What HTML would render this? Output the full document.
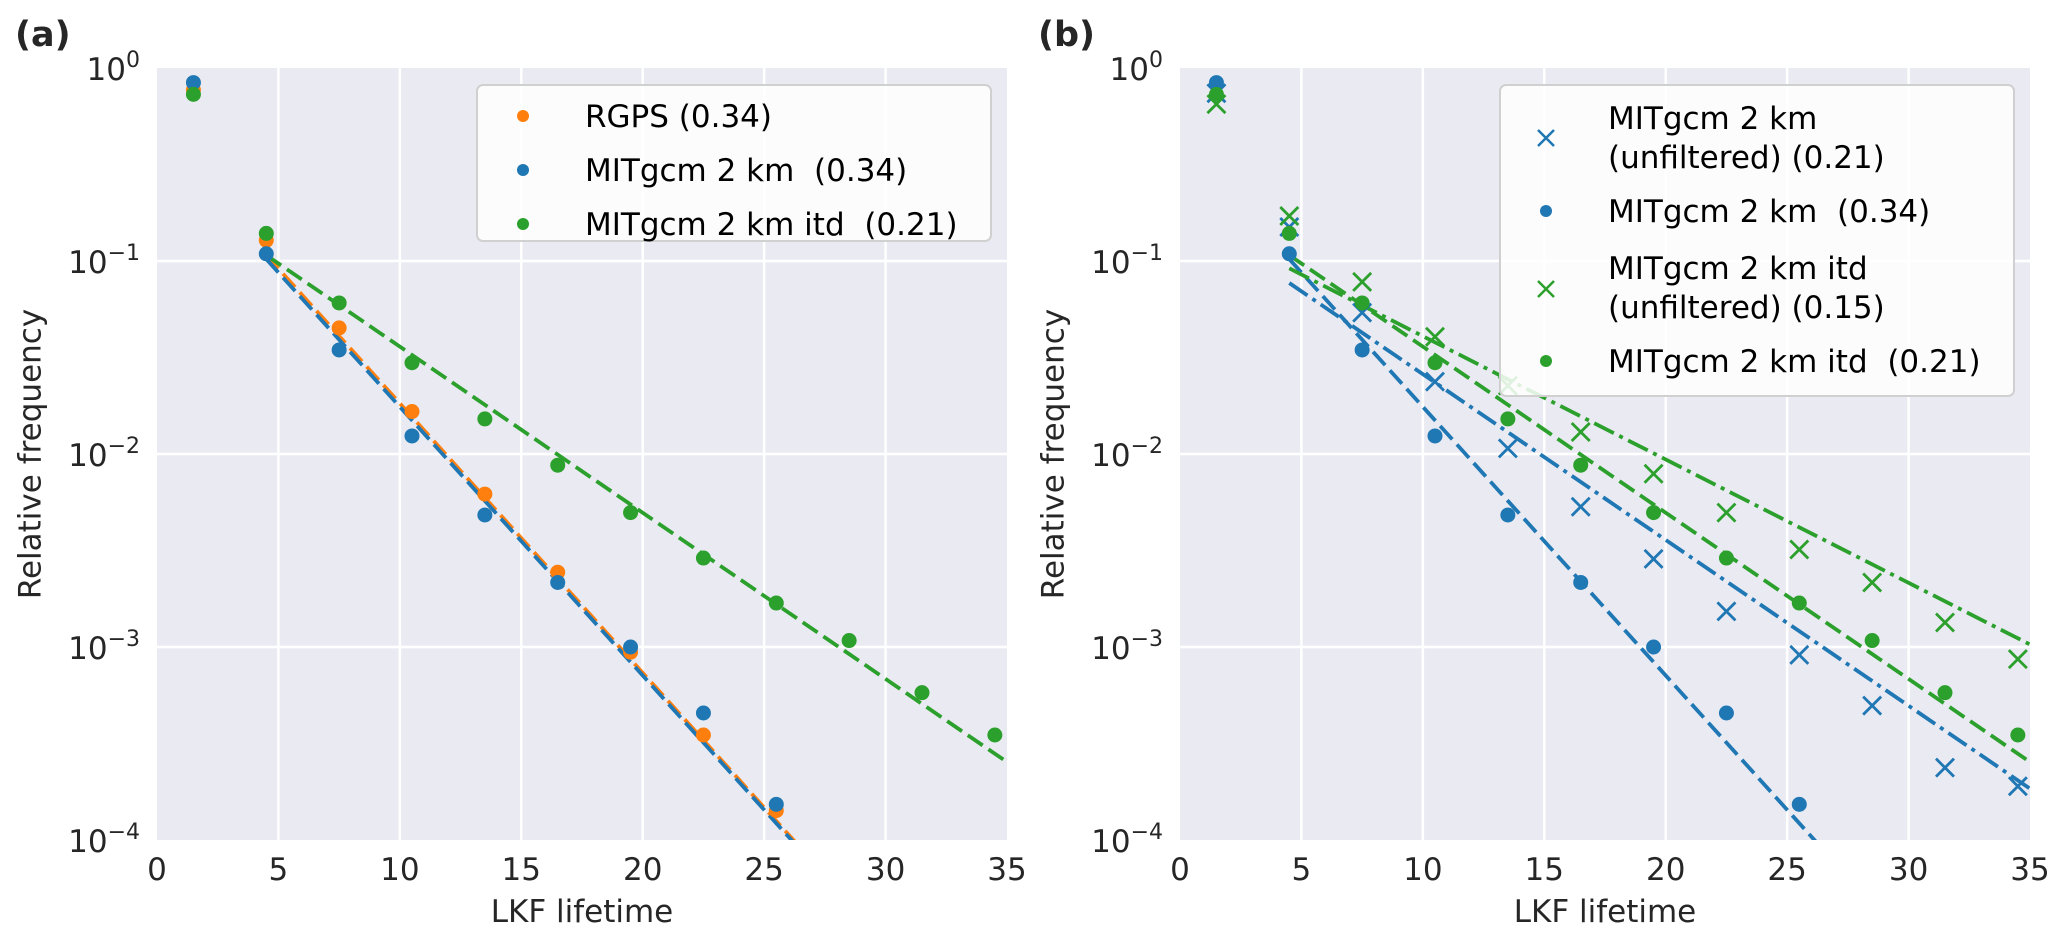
<!DOCTYPE html>
<html><head><meta charset="utf-8">
<style>
html,body{margin:0;padding:0;background:#fff;width:2067px;height:944px;overflow:hidden;}
svg{display:block;font-family:"DejaVu Sans","Liberation Sans",sans-serif;}
svg text{white-space:pre;}
</style></head>
<body>
<svg id="fig" width="2067" height="944" viewBox="0 0 2067 944" xmlns="http://www.w3.org/2000/svg" xml:space="preserve">
<defs>
<clipPath id="clipA"><rect x="157" y="68" width="850" height="772"/></clipPath>
<clipPath id="clipB"><rect x="1180" y="68" width="850" height="772"/></clipPath>
</defs>
<g id="panelA"></g>
<g id="panelB"></g>
</svg>
<script>
// ---- data ----
const lifetimes = [1.5,4.5,7.5,10.5,13.5,16.5,19.5,22.5,25.5,28.5,31.5,34.5];
const rgpsVals = [0.77,0.128,0.045,0.0166,0.0062,0.00244,0.00094,0.00035,0.000142];
const mit2kmVals = [0.84,0.109,0.0346,0.0124,0.00483,0.00216,0.001,0.000455,0.000153];
const mitItdVals = [0.73,0.139,0.0606,0.0297,0.0152,0.00875,0.00497,0.00289,0.00169,0.00108,0.00058,0.00035];
const mit2kmUnfVals = [0.74,0.150,0.054,0.0237,0.0107,0.00533,0.00286,0.00153,0.00091,0.000497,0.000237,0.00019];
const mitItdUnfVals = [0.65,0.171,0.078,0.0405,0.0226,0.013,0.0079,0.00497,0.0032,0.00216,0.00134,0.000865];
// exponential fits: log10(value at fitStart), slope in log10 per unit lifetime
const fitStart = 4.5;
const fitRgps = [-0.97,-0.1396];
const fitMit2km = [-0.99,-0.1392];
const fitMitItd = [-0.97,-0.0861];
const fitMit2kmUnf = [-1.114,-0.0859];
const fitMitItdUnf = [-1.038,-0.0639];
const xTicks = [0,5,10,15,20,25,30,35];
const yTickExps = [0,-1,-2,-3,-4];

const BLUE="#1f77b4", ORANGE="#ff7f0e", GREEN="#2ca02c";
const NS="http://www.w3.org/2000/svg";
function mk(tag, attrs, parent){const e=document.createElementNS(NS,tag);for(const k in attrs)e.setAttribute(k,attrs[k]);parent.appendChild(e);return e;}

function makeAxes(left){
  const top=68, w=850, h=772;
  return {left, top, w, h,
    x: v => left + v/35*w,
    y: v => top + (-Math.log10(v))/4*h};
}

function drawFrame(g, ax, label){
  const bg=mk('rect',{x:ax.left,y:ax.top,width:ax.w,height:ax.h,fill:'#EAEAF2'},g);
  
  
  xTicks.forEach(t=>{
    const gx=ax.x(t);
    if(t>0&&t<35){const l=mk('line',{x1:gx,x2:gx,y1:ax.top,y2:ax.top+ax.h,stroke:'#fff','stroke-width':2.5},g);
      
      }
    const tx=mk('text',{x:gx,y:880,'font-size':31,fill:'#262626','text-anchor':'middle'},g);
    tx.textContent=t;
    
    
  });
  yTickExps.forEach(e=>{
    const gy=ax.y(Math.pow(10,e));
    if(e<0&&e>-4){const l=mk('line',{x1:ax.left,x2:ax.left+ax.w,y1:gy,y2:gy,stroke:'#fff','stroke-width':2.5},g);
      
      }
    const tx=mk('text',{x:ax.left-17,y:gy+12,'font-size':31,fill:'#262626','text-anchor':'end'},g);
    
    
    const b=document.createElementNS(NS,'tspan');b.textContent='10';tx.appendChild(b);
    const s=document.createElementNS(NS,'tspan');s.setAttribute('dy','-13');s.setAttribute('font-size','22');
    s.textContent=(e===0?'0':'\u2212'+(-e));tx.appendChild(s);
  });
  const xl=mk('text',{x:ax.left+ax.w/2,y:922,'font-size':31,fill:'#262626','text-anchor':'middle'},g);
  xl.textContent='LKF lifetime';
  
  
  const cx=ax.left-125, cy=ax.top+ax.h/2;
  const yl=mk('text',{x:cx,y:cy,'font-size':31,fill:'#262626','text-anchor':'middle',transform:`rotate(-90 ${cx} ${cy})`,'dominant-baseline':'middle'},g);
  yl.textContent='Relative frequency';
  
  
  const pl=mk('text',{x:ax.left-142,y:46,'font-size':35,'font-weight':'bold',fill:'#262626'},g);
  pl.textContent=label;
  
  
}

function drawFit(g, ax, fit, color, dash, clip, name){
  const x0=fitStart, x1=35;
  const v0=Math.pow(10,fit[0]), v1=Math.pow(10,fit[0]+fit[1]*(x1-x0));
  const l=mk('line',{x1:ax.x(x0),y1:ax.y(v0),x2:ax.x(x1),y2:ax.y(v1),stroke:color,'stroke-width':3.8,'stroke-dasharray':dash,'clip-path':clip},g);
  
  
}
function drawDots(g, ax, vals, color, clip, name){
  vals.forEach((v,i)=>{
    const c=mk('circle',{cx:ax.x(lifetimes[i]),cy:ax.y(v),r:7.5,fill:color,'clip-path':clip},g);
    
    
  });
}
function drawXs(g, ax, vals, color, clip, name){
  vals.forEach((v,i)=>{
    const px=ax.x(lifetimes[i]), py=ax.y(v), s=9;
    const p=mk('path',{d:`M${px-s},${py-s}L${px+s},${py+s}M${px-s},${py+s}L${px+s},${py-s}`,stroke:color,'stroke-width':2.8,fill:'none','clip-path':clip},g);
    
    
  });
}
function legendBox(g,x,y,w,h){
  const r=mk('rect',{x,y,width:w,height:h,rx:6,fill:'#fff','fill-opacity':0.85,stroke:'#d0d0d0','stroke-width':2},g);
  
  
}
function legDot(g,x,y,color){const c=mk('circle',{cx:x,cy:y,r:6,fill:color},g);
  
  }
function legX(g,x,y,color){const s=8;const p=mk('path',{d:`M${x-s},${y-s}L${x+s},${y+s}M${x-s},${y+s}L${x+s},${y-s}`,stroke:color,'stroke-width':2.5},g);
  
  }
function legText(g,x,y,str){const t=mk('text',{x,y:y+11,'font-size':31,fill:'#000'},g);t.textContent=str;
  
  }

// Panel A
const gA=document.getElementById('panelA');
const axA=makeAxes(157);
drawFrame(gA,axA,'(a)');
drawFit(gA,axA,fitRgps,ORANGE,'18 7','url(#clipA)','rgps-fit-line');
drawFit(gA,axA,fitMit2km,BLUE,'18 7','url(#clipA)','mitgcm-2km-fit-line');
drawFit(gA,axA,fitMitItd,GREEN,'18 7','url(#clipA)','mitgcm-itd-fit-line');
drawDots(gA,axA,rgpsVals,ORANGE,'url(#clipA)','rgps-point');
drawDots(gA,axA,mit2kmVals,BLUE,'url(#clipA)','mitgcm-2km-point');
drawDots(gA,axA,mitItdVals,GREEN,'url(#clipA)','mitgcm-itd-point');
const lgA=mk('g',{},gA);


legendBox(lgA,477,85,514,156);
legDot(lgA,523,116,ORANGE);legText(lgA,585,116,'RGPS (0.34)');
legDot(lgA,523,170,BLUE);legText(lgA,585,170,'MITgcm 2 km\u00A0 (0.34)');
legDot(lgA,523,224,GREEN);legText(lgA,585,224,'MITgcm 2 km itd\u00A0 (0.21)');

// Panel B
const gB=document.getElementById('panelB');
const axB=makeAxes(1180);
drawFrame(gB,axB,'(b)');
drawFit(gB,axB,fitMit2km,BLUE,'18 7','url(#clipB)','mitgcm-2km-fit-line');
drawFit(gB,axB,fitMitItd,GREEN,'18 7','url(#clipB)','mitgcm-itd-fit-line');
drawFit(gB,axB,fitMit2kmUnf,BLUE,'22 6 4 6','url(#clipB)','mitgcm-2km-unfiltered-fit-line');
drawFit(gB,axB,fitMitItdUnf,GREEN,'22 6 4 6','url(#clipB)','mitgcm-itd-unfiltered-fit-line');
drawXs(gB,axB,mit2kmUnfVals,BLUE,'url(#clipB)','mitgcm-2km-unfiltered-point');
drawXs(gB,axB,mitItdUnfVals,GREEN,'url(#clipB)','mitgcm-itd-unfiltered-point');
drawDots(gB,axB,mit2kmVals,BLUE,'url(#clipB)','mitgcm-2km-point');
drawDots(gB,axB,mitItdVals,GREEN,'url(#clipB)','mitgcm-itd-point');
const lgB=mk('g',{},gB);


legendBox(lgB,1500,85,514,311);
legX(lgB,1546,138,BLUE);legText(lgB,1608,118,'MITgcm 2 km');legText(lgB,1608,157,'(unfiltered) (0.21)');
legDot(lgB,1546,211,BLUE);legText(lgB,1608,211,'MITgcm 2 km\u00A0 (0.34)');
legX(lgB,1546,289,GREEN);legText(lgB,1608,268,'MITgcm 2 km itd');legText(lgB,1608,307,'(unfiltered) (0.15)');
legDot(lgB,1546,361,GREEN);legText(lgB,1608,361,'MITgcm 2 km itd\u00A0 (0.21)');
</script>
</body></html>
